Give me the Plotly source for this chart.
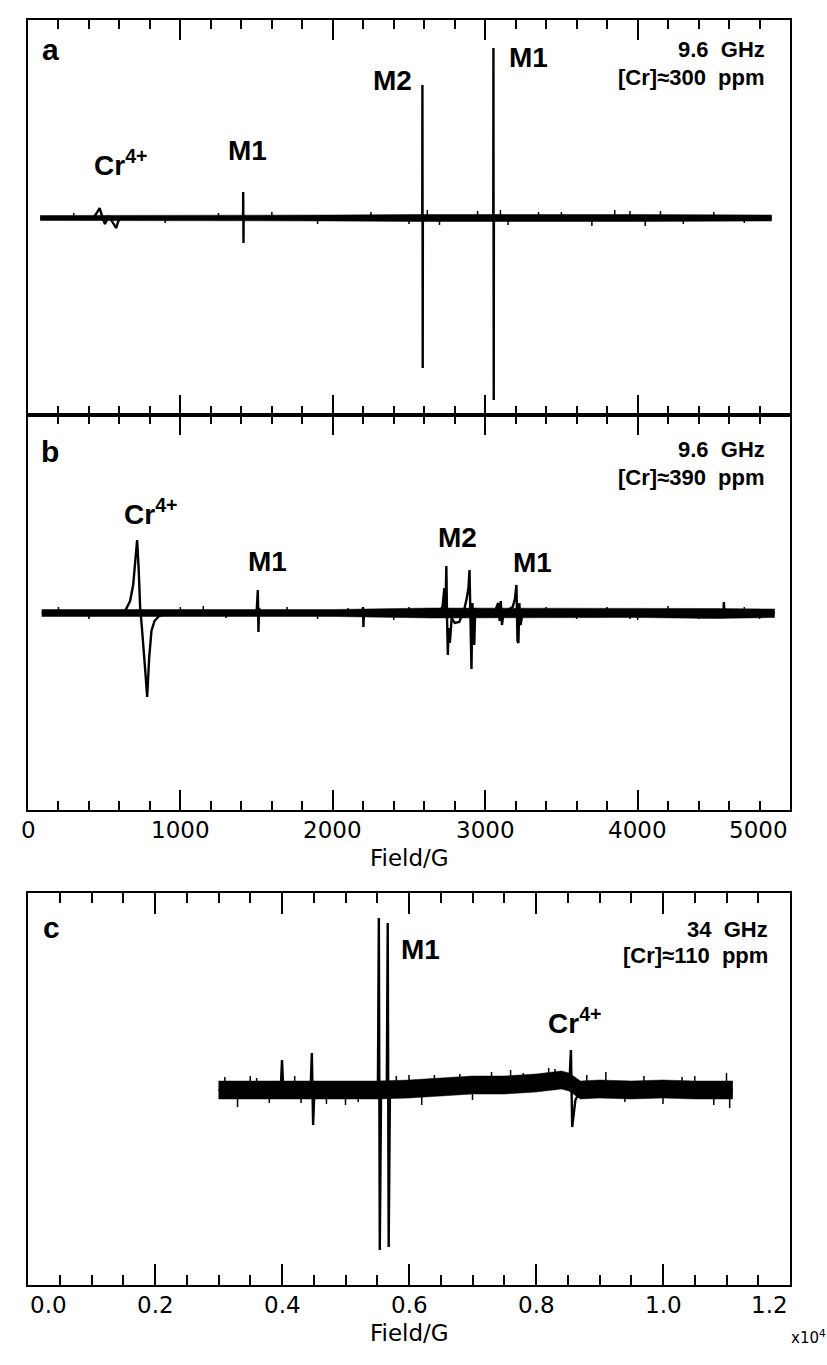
import plotly.graph_objects as go

# ---------------- data (field in G; intensity in arbitrary units, 0 = baseline) -------------
# Panel a: 9.6 GHz, [Cr]=300 ppm
a_field = [80, 430, 455, 470, 490, 505, 530, 560, 578, 600,
           1411, 1412, 1414, 1415,
           2587, 2588, 2590, 2591,
           3053, 3054, 3056, 3057, 4880]
a_signal = [0, 0, 6, 10, 0, -6, 2, -6, -10, 0,
            0, 26, -25, 0,
            0, 133, -150, 0,
            0, 170, -182, 0, 0]
a_band_field = [80, 1400, 2000, 2550, 2620, 3000, 3100, 3400, 3700, 4000, 4880]
a_band_hi = [2.5, 2.5, 3, 3.5, 3.5, 3.5, 4, 3.5, 4, 3.5, 3]
a_band_lo = [-2.5, -2.5, -3, -3.5, -3.5, -3.5, -4, -3.5, -4, -3.5, -3]
a_noise_field = [300, 900, 1250, 1600, 1900, 2250, 2500, 2620, 2700, 2950, 3100, 3150, 3350,
                 3500, 3700, 3850, 3950, 4050, 4150, 4300, 4500, 4700]
a_noise_amp = [5, -5, 5, 6, -6, 6, -6, 8, -7, 7, 8, -7, 6, 6, -8, 8, 7, -8, 7, -6, 6, -5]

# Panel b: 9.6 GHz, [Cr]=390 ppm
b_field = [90, 600, 640, 670, 690, 705, 716, 726, 736, 746, 756, 768, 782, 795, 810, 830, 860, 920,
           1500, 1508, 1512, 1516, 1524,
           2195, 2198, 2201, 2204,
           2690, 2720, 2732, 2738, 2745, 2750, 2755, 2760, 2768, 2780, 2800, 2830, 2860,
           2878, 2890, 2897, 2903, 2910, 2916, 2922, 2928, 2935, 2945, 2960, 3000,
           3060, 3085, 3095, 3102, 3110, 3120, 3150, 3180, 3195, 3205, 3212, 3218, 3224,
           3232, 3245, 3270,
           4550, 4563, 4566, 4570, 4600, 4900]
b_signal = [0, 0, 3, 12, 28, 50, 73, 45, 5, -12, -28, -55, -84, -45, -18, -8, -3, 0,
            0, 23, -19, 5, 0,
            0, 6, -14, 0,
            0, 6, 25, -4, 47, -8, -42, -15, -30, -5, -10, -9, 2,
            14, 25, 43, -5, -56, 10, -20, -32, 5, -3, 0, 0,
            0, 10, -8, 12, -12, 0, 3, 6, 14, 28, -28, -30, 10,
            -12, 0, 0,
            0, -5, 11, -3, 0, 0]
b_band_field = [90, 600, 900, 2000, 2650, 3000, 3300, 3600, 4000, 4500, 4900]
b_band_hi = [3.5, 3.5, 3.5, 3.5, 5, 5, 5, 4.5, 4.5, 4.5, 4]
b_band_lo = [-3.5, -3.5, -3.5, -3.5, -5, -5, -5, -4.5, -4.5, -5.5, -4.5]
b_noise_field = [200, 400, 1000, 1150, 1300, 1700, 1900, 2100, 2400, 2500, 3400, 3600, 3800,
                 3950, 4000, 4200, 4400, 4700, 4800]
b_noise_amp = [6, -6, 6, 7, -5, 6, -6, 5, -7, 6, 6, -6, 6, -6, -7, 7, -6, 6, -6]

# Panel c: 34 GHz, [Cr]=110 ppm  (field in units of 10^4 G)
c_field = [0.300, 0.398, 0.400, 0.402, 0.445, 0.447, 0.449, 0.451,
           0.551, 0.5525, 0.554, 0.556, 0.565, 0.5665, 0.568, 0.570,
           0.845, 0.853, 0.855, 0.857, 0.862, 0.870, 1.110]
c_signal = [0, 0, 30, 0, 0, 37, -35, 0,
            0, 172, -160, 0, 0, 167, -157, 0,
            10, 12, 40, -37, -10, 0, 0]
c_band_field = [0.30, 0.40, 0.50, 0.55, 0.60, 0.65, 0.70, 0.75, 0.80, 0.84, 0.852,
                0.87, 0.90, 0.95, 1.00, 1.05, 1.11]
c_band_hi = [9, 9, 9, 9, 10, 12, 14, 14, 16, 19, 17, 9, 10, 9, 10, 9, 9]
c_band_lo = [-9, -9, -9, -9, -8, -6, -4, -4, -2, 1, -1, -9, -8, -9, -8, -9, -9]
c_noise_field = [0.31, 0.33, 0.35, 0.36, 0.38, 0.42, 0.43, 0.47, 0.50, 0.52, 0.58, 0.60, 0.62,
                 0.64, 0.68, 0.70, 0.73, 0.76, 0.78, 0.82, 0.83, 0.88, 0.91, 0.94, 0.97,
                 1.00, 1.03, 1.05, 1.08, 1.10, 1.105]
c_noise_amp = [13, -17, 14, 12, -13, 14, -13, -14, -15, -12, 14, 15, -15, 15, 16, -10, 18, 20,
               17, 22, 21, 15, 18, -12, 14, -14, 13, 14, -15, 17, -18]

# tick values / labels
b_tickvals = [0, 1000, 2000, 3000, 4000, 5000]
b_ticktext = ["0", "1000", "2000", "3000", "4000", "5000"]
c_tickvals = [0.0, 0.2, 0.4, 0.6, 0.8, 1.0, 1.2]
c_ticktext = ["0.0", "0.2", "0.4", "0.6", "0.8", "1.0", "1.2"]

# ---------------- figure ----------------
W, H = 827, 1365
fig = go.Figure()


def add_panel(xs, ys, bx, bhi, blo, nx, namp, xa, ya):
    fig.add_trace(go.Scatter(x=bx, y=bhi, mode="lines", line=dict(color="black", width=0.5),
                             xaxis=xa, yaxis=ya, showlegend=False, hoverinfo="skip"))
    fig.add_trace(go.Scatter(x=bx, y=blo, mode="lines", line=dict(color="black", width=0.5),
                             fill="tonexty", fillcolor="black",
                             xaxis=xa, yaxis=ya, showlegend=False, hoverinfo="skip"))
    sx, sy = [], []
    for f, a in zip(nx, namp):
        sx += [f, f, None]
        sy += [0, a, None]
    fig.add_trace(go.Scatter(x=sx, y=sy, mode="lines", line=dict(color="black", width=1.5),
                             xaxis=xa, yaxis=ya, showlegend=False, hoverinfo="skip"))
    fig.add_trace(go.Scatter(x=xs, y=ys, mode="lines", line=dict(color="black", width=2.4),
                             xaxis=xa, yaxis=ya, showlegend=False, hoverinfo="skip"))


add_panel(a_field, a_signal, a_band_field, a_band_hi, a_band_lo, a_noise_field, a_noise_amp, "x", "y")
add_panel(b_field, b_signal, b_band_field, b_band_hi, b_band_lo, b_noise_field, b_noise_amp, "x2", "y2")
add_panel(c_field, c_signal, c_band_field, c_band_hi, c_band_lo, c_noise_field, c_noise_amp, "x3", "y3")


def ypaper(p):
    return 1 - p / H


xdom = [28 / W, 790 / W]
tickfont = dict(family="DejaVu Sans", size=23, color="black")
common_x = dict(showline=True, linecolor="black", linewidth=2, mirror="allticks",
                ticks="inside", tickwidth=2, tickcolor="black", showgrid=False, zeroline=False,
                domain=xdom, tickfont=tickfont, automargin=False, showticklabels=False)
common_y = dict(showline=True, linecolor="black", linewidth=2, mirror=True, ticks="",
                showticklabels=False, showgrid=False, zeroline=False, fixedrange=True,
                automargin=False)

fig.update_layout(
    width=W, height=H, autosize=False,
    margin=dict(l=0, r=0, t=0, b=0),
    paper_bgcolor="white", plot_bgcolor="white",
    xaxis=dict(common_x, anchor="y", range=[0, 5000], tickvals=b_tickvals, ticklen=20,
               minor=dict(dtick=200, ticklen=9, ticks="inside", tickwidth=2, tickcolor="black")),
    yaxis=dict(common_y, domain=[ypaper(415), ypaper(20)], range=[-197, 198]),
    xaxis2=dict(common_x, anchor="y2", range=[0, 5000], tickvals=b_tickvals, ticklen=20,
                minor=dict(dtick=200, ticklen=9, ticks="inside", tickwidth=2, tickcolor="black")),
    yaxis2=dict(common_y, domain=[ypaper(810), ypaper(415)], range=[-197, 198]),
    xaxis3=dict(common_x, anchor="y3", range=[0, 1.2], tickvals=c_tickvals, ticklen=21,
                minor=dict(dtick=0.05, ticklen=10, ticks="inside", tickwidth=2, tickcolor="black")),
    yaxis3=dict(common_y, domain=[ypaper(1285), ypaper(893)], range=[-195, 197]),
)

lab_font = dict(family="Liberation Sans", size=28, color="black")
small_font = dict(family="Liberation Sans", size=22, color="black")
panel_font = dict(family="Liberation Sans", size=30, color="black")
axis_font = dict(family="DejaVu Sans", size=23, color="black")


def ann(text, x, y, font, xanchor="center"):
    fig.add_annotation(text=text, x=x / W, y=ypaper(y), xref="paper", yref="paper",
                       showarrow=False, font=font, xanchor=xanchor, yanchor="middle")


def tick_labels(vals, texts, xref, ypix):
    n = len(vals)
    for i, (v, t) in enumerate(zip(vals, texts)):
        anchor = "center"
        if i == n - 1:
            anchor = "right"
        elif i == 0 and len(t) > 1:
            anchor = "left"
        fig.add_annotation(text=t, x=v, y=ypaper(ypix), xref=xref, yref="paper",
                           showarrow=False, font=axis_font, xanchor=anchor, yanchor="middle")


sp = "\u00a0\u00a0"
# panel a
ann("<b>a</b>", 50, 50, panel_font)
ann("<b>Cr<sup>4+</sup></b>", 120, 163, lab_font)
ann("<b>M1</b>", 247, 150, lab_font)
ann("<b>M2</b>", 392, 80, lab_font)
ann("<b>M1</b>", 528, 58, lab_font)
ann("<b>9.6" + sp + "GHz</b>", 767, 50, small_font, "right")
ann("<b>[Cr]≈300" + sp + "ppm</b>", 767, 77, small_font, "right")
# panel b
ann("<b>b</b>", 50, 452, panel_font)
ann("<b>Cr<sup>4+</sup></b>", 150, 512, lab_font)
ann("<b>M1</b>", 267, 561, lab_font)
ann("<b>M2</b>", 458, 538, lab_font)
ann("<b>M1</b>", 532, 562, lab_font)
ann("<b>9.6" + sp + "GHz</b>", 767, 450, small_font, "right")
ann("<b>[Cr]≈390" + sp + "ppm</b>", 767, 477, small_font, "right")
tick_labels(b_tickvals, b_ticktext, "x2", 830)
ann("Field/G", 409, 858, axis_font)
# panel c
ann("<b>c</b>", 51, 927, panel_font)
ann("<b>M1</b>", 420, 949, lab_font)
ann("<b>Cr<sup>4+</sup></b>", 574, 1021, lab_font)
ann("<b>34" + sp + "GHz</b>", 770, 929, small_font, "right")
ann("<b>[Cr]≈110" + sp + "ppm</b>", 770, 956, small_font, "right")
tick_labels(c_tickvals, c_ticktext, "x3", 1305)
ann("Field/G", 409, 1333, axis_font)
ann("x10<sup>4</sup>", 808, 1337, dict(family="DejaVu Sans", size=15, color="black"))

fig.write_html("out.html", config={"displayModeBar": False},
               post_script="document.body.style.margin='0';")
